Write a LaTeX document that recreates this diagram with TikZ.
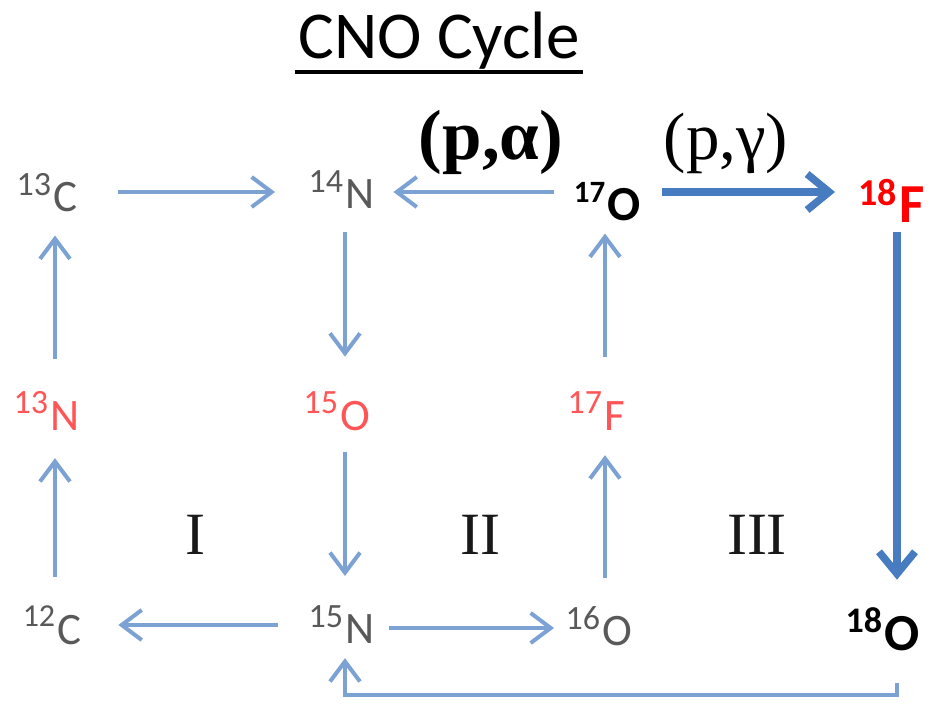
\documentclass[tikz,border=0pt]{standalone}
\usepackage{fontspec}
\usepackage{graphicx}
\setmainfont{Carlito}
\newfontfamily\timesfont{Liberation Serif}
\usetikzlibrary{arrows.meta}

\definecolor{isogray}{RGB}{89,89,89}
\definecolor{isored}{RGB}{255,85,85}
\definecolor{hotred}{RGB}{255,0,0}
\definecolor{flow}{RGB}{124,162,212}
\definecolor{flowdark}{RGB}{72,124,192}

% #1 size of the mass number, #2 its raise, #3 mass number, #4 element symbol
\newcommand\iso[4]{\llap{\smash{\raisebox{#2}{\fontsize{#1}{#1}\selectfont #3}}\kern2pt}#4}

\begin{document}
\begin{tikzpicture}[x=1pt,y=-1pt,
  nuc/.style={inner sep=0pt, anchor=base west, text=isogray,
              font=\fontsize{45}{45}\selectfont},
  boldnuc/.style={nuc, text=black},
  flowarrow/.style={draw=flow, line width=4pt,
                    -{Straight Barb[length=20pt,width=30pt]}},
  darkarrow/.style={draw=flowdark, line width=7.5pt,
                    -{Straight Barb[length=22pt,width=36pt]}},
  numeral/.style={font=\timesfont\fontsize{60}{60}\selectfont, text=black!90},
]
\fill[white] (0,0) rectangle (942,707);
\useasboundingbox (0,0) rectangle (942,707);

% title
\node[inner sep=0pt, anchor=base, font=\fontsize{67}{67}\selectfont] (title) at (439,58) {CNO Cycle};
\draw[line width=3.5pt] ([xshift=-3pt,yshift=-14pt]title.base west) -- ([xshift=3pt,yshift=-14pt]title.base east);

% nuclei
\node[nuc] (c13) at (53,211) {\iso{34pt}{16pt}{13}{C}};
\node[nuc] (n14) at (345,208) {\iso{34pt}{16pt}{14}{N}};
\node[boldnuc, font=\bfseries\fontsize{49}{49}\selectfont] (o17) at (607,220) {\iso{31pt}{18pt}{17}{O}};
\node[nuc, text=hotred, font=\bfseries\fontsize{55}{55}\selectfont] (f18) at (899,222) {\iso{38pt}{17pt}{18}{F}};
\node[nuc, text=isored] (n13) at (50,430) {\iso{34pt}{17pt}{13}{N}};
\node[nuc, text=isored] (o15) at (340,430) {\iso{34pt}{17pt}{15}{O}};
\node[nuc, text=isored] (f17) at (604,430) {\iso{34pt}{17pt}{17}{F}};
\node[nuc] (c12) at (57,644) {\iso{32pt}{18pt}{12}{C}};
\node[nuc] (n15) at (345,643) {\iso{34pt}{16pt}{15}{N}};
\node[nuc] (o16) at (602,645) {\iso{34pt}{16pt}{16}{O}};
\node[boldnuc, font=\bfseries\fontsize{52}{52}\selectfont] (o18) at (884,650) {\iso{36pt}{18pt}{18}{O}};

% reaction labels and loop numbers
\node[font=\timesfont\bfseries\fontsize{71}{71}\selectfont] (pa) at (491,142) {(p,α)};
\node[font=\timesfont\fontsize{67}{67}\selectfont] (pg) at (726,143) {(p,γ)};
\node[numeral] (loop1) at (195,535) {I};
\node[numeral] (loop2) at (480,535) {II};
\node[numeral] (loop3) at (757,535) {III};

% arrow axes
\coordinate (row1) at (0,192);
\coordinate (row3a) at (0,625);
\coordinate (row3b) at (0,628);
\coordinate (row4) at (0,695);
\coordinate (col1) at (55,0);
\coordinate (col2) at (345,0);
\coordinate (col3) at (605,0);
\coordinate (col4) at (897,0);

% loops I and II
\draw[flowarrow, shorten <=41pt, shorten >=70pt] (c13.east |- row1) -- (n14.west |- row1);
\draw[flowarrow, shorten <=24pt, shorten >=44pt] (col2 |- n14.south) -- (col2 |- o15.north);
\draw[flowarrow, shorten <=21pt, shorten >=38pt] (col2 |- o15.south) -- (col2 |- n15.north);
\draw[flowarrow, shorten <=67pt, shorten >=37pt] (n15.west |- row3a) -- (c12.east |- row3a);
\draw[flowarrow, shorten <=38pt, shorten >=28pt] (col1 |- c12.north) -- (col1 |- n13.south);
\draw[flowarrow, shorten <=42pt, shorten >=24pt] (col1 |- n13.north) -- (col1 |- c13.south);
\draw[flowarrow, shorten <=15pt, shorten >=48pt] (n15.east |- row3b) -- (o16.west |- row3b);
\draw[flowarrow, shorten <=38pt, shorten >=25pt] (col3 |- o16.north) -- (col3 |- f17.south);
\draw[flowarrow, shorten <=44pt, shorten >=13pt] (col3 |- f17.north) -- (col3 |- o17.south);
\draw[flowarrow, shorten <=53pt, shorten >=19pt] (o17.west |- row1) -- (n14.east |- row1);

% loop III
\draw[darkarrow, shorten <=21pt, shorten >=64pt] (o17.east |- row1) -- (f18.west |- row1);
\draw[darkarrow, shorten <=10pt, shorten >=36pt] (col4 |- f18.south) -- (col4 |- o18.north);
\draw[flowarrow, shorten <=32pt, shorten >=15pt] (col4 |- o18.south) -- (col4 |- row4) -| (col2 |- n15.south);
\end{tikzpicture}
\end{document}
